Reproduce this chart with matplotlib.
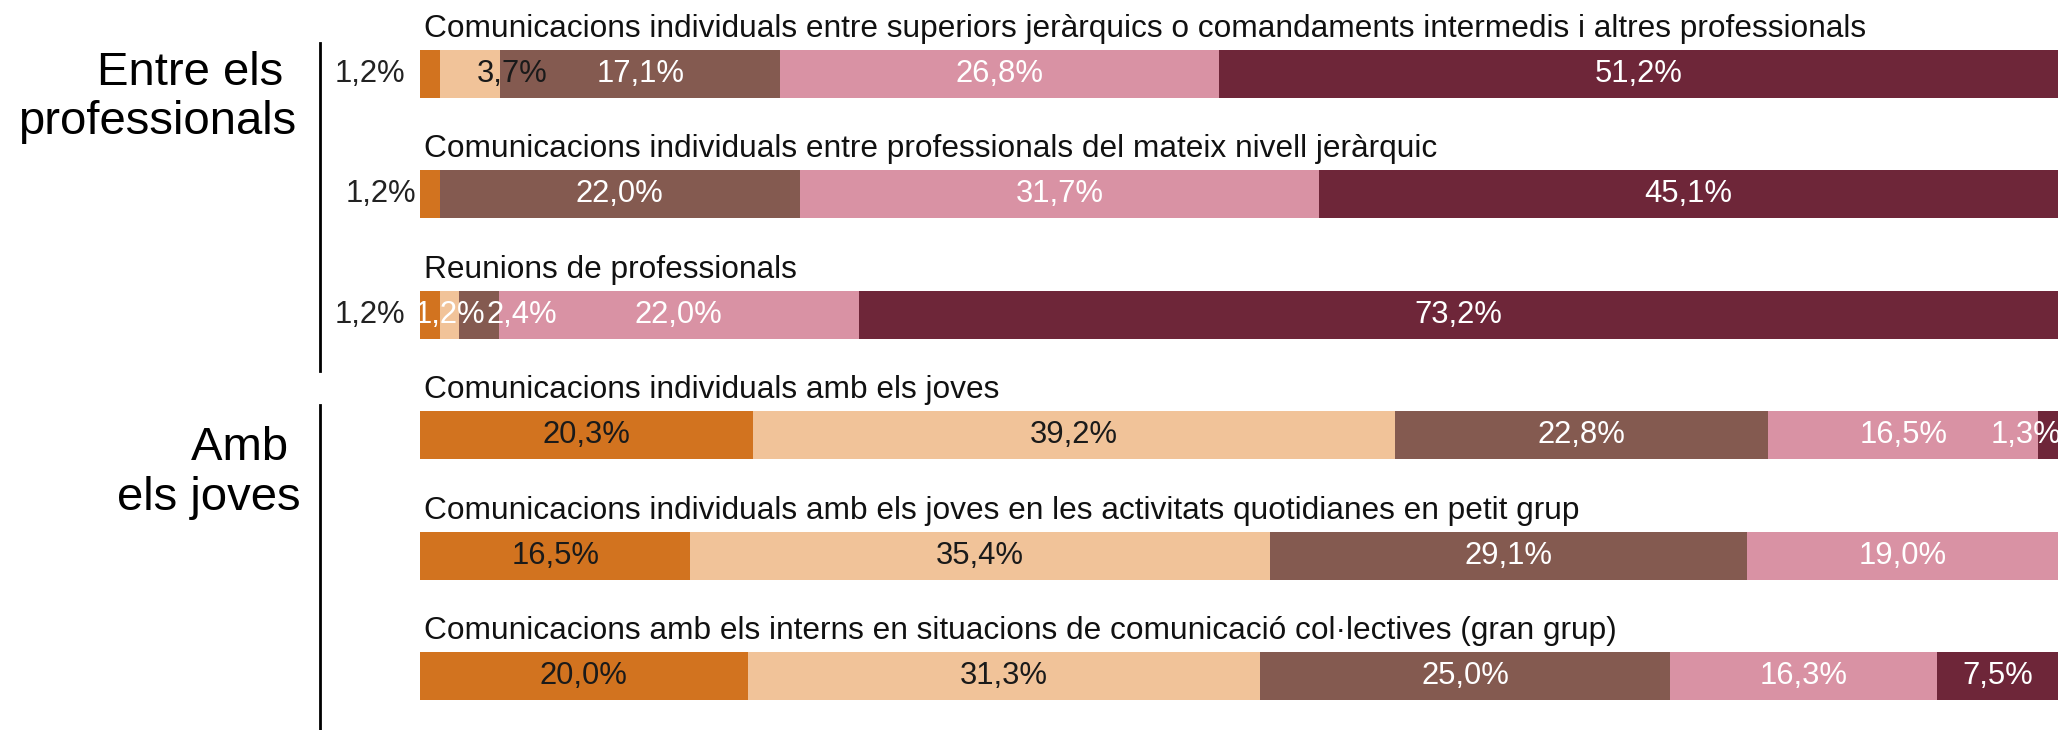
import matplotlib.pyplot as plt
from matplotlib.lines import Line2D

plt.rcParams['font.family'] = ['Liberation Sans', 'DejaVu Sans']

# Data (percentages per row, five answer levels)
categories = [
    "Comunicacions individuals entre superiors jeràrquics o comandaments intermedis i altres professionals",
    "Comunicacions individuals entre professionals del mateix nivell jeràrquic",
    "Reunions de professionals",
    "Comunicacions individuals amb els joves",
    "Comunicacions individuals amb els joves en les activitats quotidianes en petit grup",
    "Comunicacions amb els interns en situacions de comunicació col·lectives (gran grup)",
]
level1 = [1.2, 1.2, 1.2, 20.3, 16.5, 20.0]
level2 = [3.7, 0.0, 1.2, 39.2, 35.4, 31.3]
level3 = [17.1, 22.0, 2.4, 22.8, 29.1, 25.0]
level4 = [26.8, 31.7, 22.0, 16.5, 19.0, 16.3]
level5 = [51.2, 45.1, 73.2, 1.3, 0.0, 7.5]
groups = ["Entre els \nprofessionals", "Amb \nels joves"]

levels = [level1, level2, level3, level4, level5]
colors = ['#D2731F', '#F1C399', '#845A50', '#D992A4', '#6E2639']
text_colors = ['#1a1a1a', '#1a1a1a', 'white', 'white', 'white']

# small label tweaks (row, level) -> x shift in % units, and colour overrides
nudge = {(0, 1): 2.6, (2, 2): 2.6, (3, 4): -1.4}
color_fix = {(2, 1): 'white'}
outside_x = {0: -0.92, 1: -0.25, 2: -0.92}

W, H = 2065, 730
fig = plt.figure(figsize=(W / 100, H / 100), dpi=100)
row_px = 120.5
top_px = 74
ax = fig.add_axes([420 / W, 0, 1638 / W, 1])
ax.set_xlim(0, 100)
ax.set_ylim((H - top_px) / row_px, -top_px / row_px)
ax.axis('off')

bar_h = 48 / row_px
fs = 22.3

for i, cat in enumerate(categories):
    left = 0.0
    for j, vals in enumerate(levels):
        v = vals[i]
        if v <= 0:
            continue
        ax.barh(i, v, left=left, height=bar_h, color=colors[j], linewidth=0)
        lab = f"{v:.1f}".replace('.', ',') + '%'
        if j == 0 and v < 2:
            ax.text(outside_x[i], i, lab, ha='right', va='center', fontsize=fs,
                    color='#222222')
        else:
            x = left + v / 2 + nudge.get((i, j), 0)
            ax.text(x, i, lab, ha='center', va='center', fontsize=fs,
                    color=color_fix.get((i, j), text_colors[j]), clip_on=False)
        left += v
    ax.text(0.25, i - bar_h / 2 - 13 / row_px, cat, ha='left', va='baseline',
            fontsize=22.8, color='#111111')

# group labels and separators
g1 = groups[0].split('\n')
fig.text(296 / W, 1 - 85 / H, g1[0], ha='right', va='baseline', fontsize=34)
fig.text(296 / W, 1 - 134 / H, g1[1], ha='right', va='baseline', fontsize=34)
g2 = groups[1].split('\n')
fig.text(301 / W, 1 - 460 / H, g2[0], ha='right', va='baseline', fontsize=34)
fig.text(301 / W, 1 - 510 / H, g2[1], ha='right', va='baseline', fontsize=34)

fig.add_artist(Line2D([320 / W, 320 / W], [1 - 43 / H, 1 - 371 / H], color='black', lw=2))
fig.add_artist(Line2D([320 / W, 320 / W], [1 - 405 / H, 0], color='black', lw=2))

fig.savefig('out.png', dpi=100)
